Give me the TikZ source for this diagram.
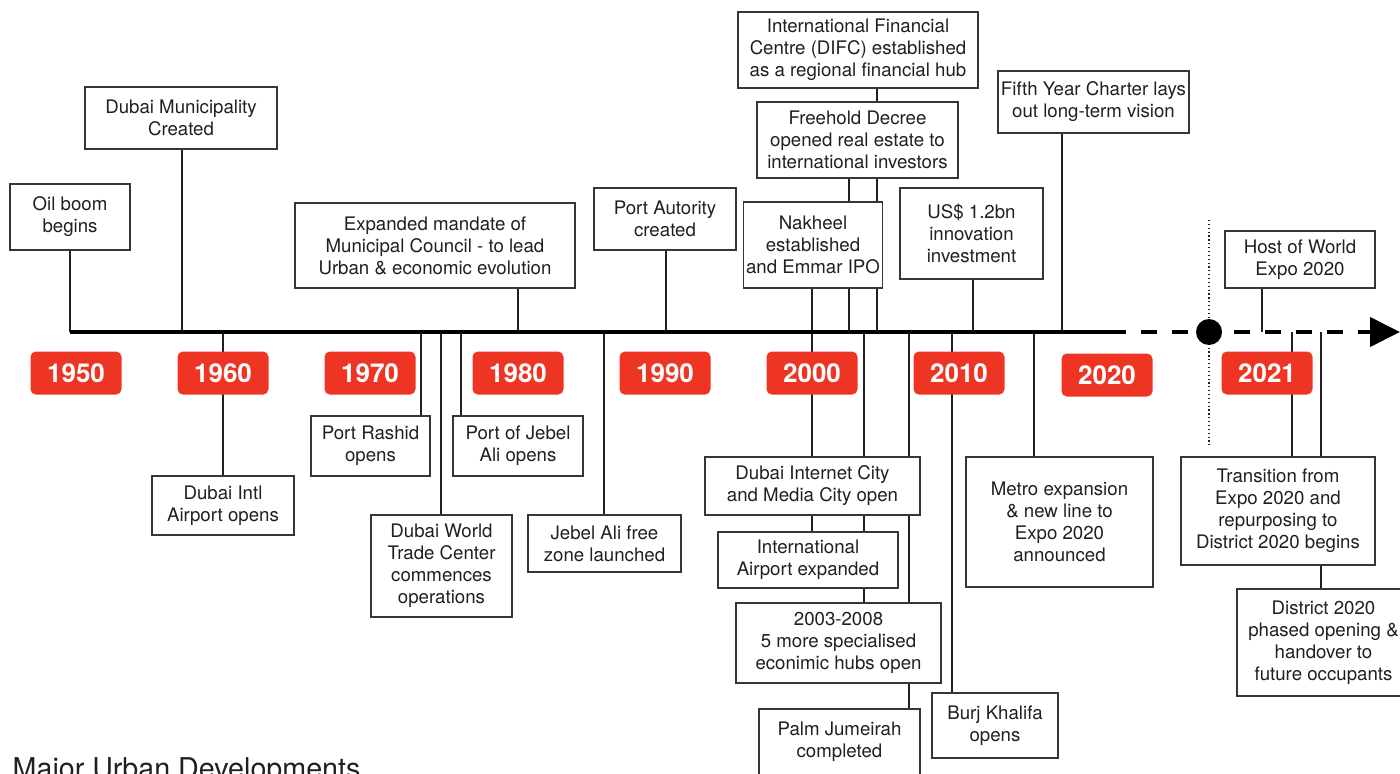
\documentclass[tikz,border=0pt]{standalone}
\usepackage{fontspec}
\setmainfont{TeX Gyre Heros}
\usepackage{tikz}
\usetikzlibrary{positioning, calc, arrows.meta}

\definecolor{yearred}{HTML}{EE3524}
\definecolor{ink}{HTML}{231F20}

\pgfdeclarelayer{background}
\pgfsetlayers{background,main}

\tikzset{
  evbox/.style={draw=ink!90, line width=1.1pt, fill=white, align=center, inner sep=2pt,
    text=ink, font=\fontsize{14}{16.5}\selectfont},
  yearbox/.style={fill=yearred, rounded corners=4pt, minimum width=68.25pt,
    minimum height=32.25pt, inner sep=0pt, text=white, font=\fontsize{19.5}{20}\selectfont\bfseries},
  stem/.style={draw=ink, line width=1.1pt},
}

\begin{document}
\begin{tikzpicture}[x=0.75pt, y=-0.75pt]
  \clip (0,0) rectangle (1400,774);

  % axis
  \coordinate (axis) at (0,332);
  \coordinate (axisstart) at (70,332);
  \coordinate (solidend) at (1110,332);
  \coordinate (tip) at (1400,332);
  \coordinate (dtop) at (1209,220);
  \coordinate (dbot) at (1209,447);

  % events above the axis
  \node[evbox, minimum width=90pt, minimum height=49.5pt] (oil) at (70,217) {Oil boom\\begins};
  \node[evbox, minimum width=144pt, minimum height=46.5pt] (dm) at (181,118) {Dubai Municipality\\Created};
  \node[evbox, minimum width=210pt, minimum height=63.75pt] (mandate) at (435,245.5) {Expanded mandate of\\Municipal Council - to lead\\Urban \& economic evolution};
  \node[evbox, minimum width=106.5pt, minimum height=46.5pt] (port) at (665,219) {Port Autority\\created};
  \node[evbox, minimum width=180pt, minimum height=57pt] (difc) at (858,50) {International Financial\\Centre (DIFC) established\\as a regional financial hub};
  \node[evbox, minimum width=150.75pt, minimum height=57pt] (freehold) at (857.5,140) {Freehold Decree\\opened real estate to\\international investors};
  \node[evbox, minimum width=103.5pt, minimum height=64.5pt] (nakheel) at (813,245) {Nakheel\\established\\and Emmar IPO};
  \node[evbox, minimum width=107.25pt, minimum height=68.25pt] (usd) at (971.5,233.5) {US\$ 1.2bn\\innovation\\investment};
  \node[evbox, minimum width=143.25pt, minimum height=46.5pt] (charter) at (1093.5,102) {Fifth Year Charter lays\\out long-term vision};
  \node[evbox, minimum width=112.5pt, minimum height=42.75pt] (host) at (1300,259.5) {Host of World\\Expo 2020};

  % events below the axis
  \node[evbox, minimum width=106.5pt, minimum height=44.25pt] (airport) at (223,505.5) {Dubai Intl\\Airport opens};
  \node[evbox, minimum width=89.25pt, minimum height=45pt] (rashid) at (370.5,446) {Port Rashid\\opens};
  \node[evbox, minimum width=105.75pt, minimum height=76.5pt] (dwtc) at (441.5,566) {Dubai World\\Trade Center\\commences\\operations};
  \node[evbox, minimum width=97.5pt, minimum height=45pt] (jebel) at (518,446) {Port of Jebel\\Ali opens};
  \node[evbox, minimum width=114.75pt, minimum height=42.75pt] (freezone) at (604.5,543.5) {Jebel Ali free\\zone launched};
  \node[evbox, minimum width=161.25pt, minimum height=43.5pt] (internet) at (812.5,486) {Dubai Internet City\\and Media City open};
  \node[evbox, minimum width=135pt, minimum height=42pt] (expanded) at (808,560) {International\\Airport expanded};
  \node[evbox, minimum width=153.75pt, minimum height=60pt] (hubs) at (838.5,643) {2003-2008\\5 more specialised\\econimic hubs open};
  \node[evbox, minimum width=120.75pt, minimum height=49.5pt] (palm) at (839.5,742) {Palm Jumeirah\\completed};
  \node[evbox, minimum width=94.5pt, minimum height=48.75pt] (burj) at (995,725.5) {Burj Khalifa\\opens};
  \node[evbox, minimum width=140.25pt, minimum height=97.5pt] (metro) at (1059.5,522) {Metro expansion\\\& new line to\\Expo 2020\\announced};
  \node[evbox, minimum width=145.5pt, minimum height=81pt] (transition) at (1278,511) {Transition from\\Expo 2020 and\\repurposing to\\District 2020 begins};
  \node[evbox, minimum width=129.75pt, minimum height=80.25pt] (district) at (1323.5,642.5) {District 2020\\phased opening \&\\handover to\\future occupants};

  % stems
  \begin{pgfonlayer}{background}
    \foreach \x/\b in {70/oil, 182/dm, 518/mandate, 666/port, 812/nakheel, 849/freehold, 877/difc, 973/usd, 1062/charter, 1262/host}
      \draw[stem] (\x,0 |- axis) -- (\x,0 |- \b.south);
    \foreach \x/\b in {223/airport, 421/rashid, 441/dwtc, 461/jebel, 604/freezone, 812/expanded, 864/hubs, 909/palm, 952/burj, 1034/metro, 1292/transition, 1321/district}
      \draw[stem] (\x,0 |- axis) -- (\x,0 |- \b.north);
    \draw[ink, line width=0.9pt, dotted] (dtop) -- (dbot);
  \end{pgfonlayer}

  \draw[line width=3pt] (axisstart) -- (solidend);
  \draw[line width=3pt, dash pattern=on 12pt off 11.25pt, -{Triangle[length=22.5pt, width=21.75pt]}] (solidend) -- (tip);
  \node[circle, fill=black, minimum size=19.5pt, inner sep=0pt] (now) at (1209,332) {};

  % decades
  \foreach \x/\yr in {76/1950, 223/1960, 370/1970, 518/1980, 665/1990, 812/2000, 959/2010, 1267/2021}
    \node[yearbox] (y\yr) at (\x,373) {\yr};
  \node[yearbox] (y2020) at (1107,375) {2020};

  \node[anchor=base west, text=ink, font=\fontsize{21.5}{24}\selectfont] (title) at (8,778) {Major Urban Developments};
\end{tikzpicture}
\end{document}
